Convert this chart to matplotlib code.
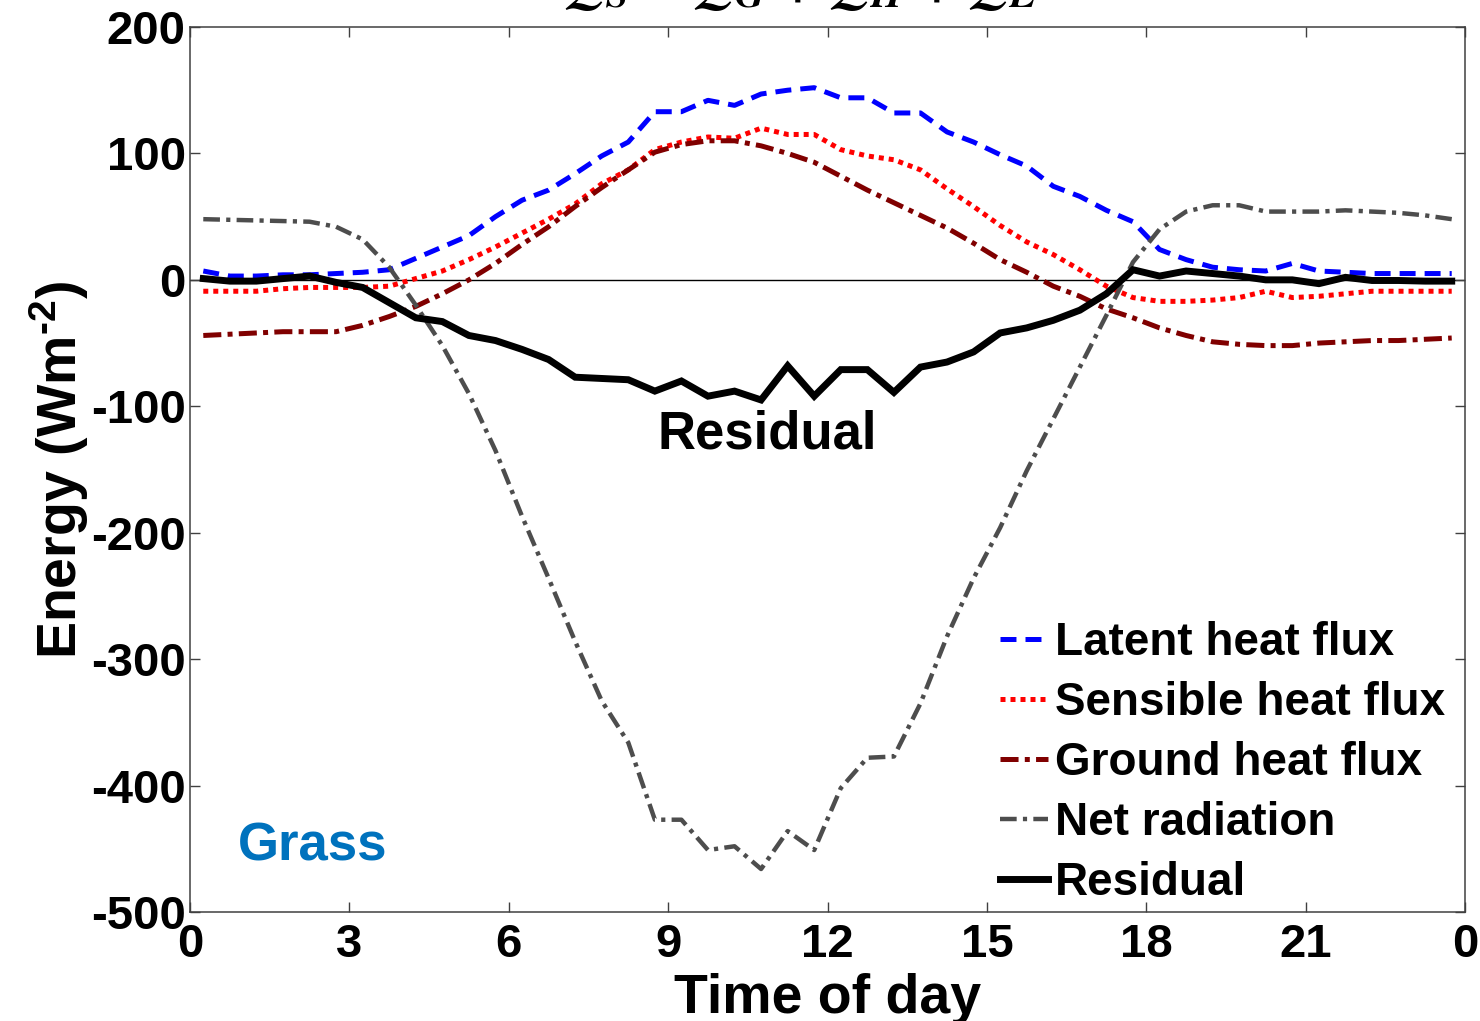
import matplotlib
matplotlib.use("Agg")
import matplotlib.pyplot as plt
import numpy as np

plt.rcParams['font.family'] = ['Liberation Sans', 'DejaVu Sans']
plt.rcParams['font.weight'] = 'bold'
plt.rcParams['lines.scale_dashes'] = False
plt.rcParams['axes.unicode_minus'] = False
plt.rcParams['mathtext.fontset'] = 'custom'
plt.rcParams['mathtext.rm'] = 'Liberation Sans:bold'
plt.rcParams['mathtext.it'] = 'Liberation Sans:bold'
plt.rcParams['mathtext.bf'] = 'Liberation Sans:bold'

# half-hourly time stamps (hours)
time_h = [0.25, 0.75, 1.25, 1.75, 2.25, 2.75, 3.25, 3.75, 4.25, 4.75, 5.25, 5.75,
          6.25, 6.75, 7.25, 7.75, 8.25, 8.75, 9.25, 9.75, 10.25, 10.75, 11.25, 11.75,
          12.25, 12.75, 13.25, 13.75, 14.25, 14.75, 15.25, 15.75, 16.25, 16.75, 17.25, 17.75,
          18.25, 18.75, 19.25, 19.75, 20.25, 20.75, 21.25, 21.75, 22.25, 22.75, 23.25, 23.75]

latent = [7, 3, 3, 4, 4, 5, 6, 8, 17, 26, 35, 50,
          63, 71, 84, 98, 109, 133, 133, 142, 138, 147, 150, 152,
          144, 144, 132, 132, 117, 109, 99, 90, 74, 66, 55, 46,
          24, 16, 10, 8, 7, 13, 7, 6, 5, 5, 5, 5]

sensible = [-9, -9, -9, -7, -6, -6, -6, -5, 1, 7, 16, 26,
            37, 48, 60, 76, 87, 103, 109, 113, 112, 120, 115, 115,
            103, 98, 95, 87, 72, 58, 43, 30, 20, 8, -5, -14,
            -17, -17, -16, -14, -9, -14, -13, -11, -9, -9, -9, -9]

ground = [-44, -43, -42, -41, -41, -41, -36, -29, -21, -11, 0, 13,
          28, 42, 58, 73, 87, 101, 107, 110, 110, 106, 100, 93,
          82, 71, 61, 51, 41, 29, 16, 6, -5, -13, -23, -30,
          -38, -44, -49, -51, -52, -52, -50, -49, -48, -48, -47, -46]

net_radiation = [48, 47.5, 47, 46.5, 46, 42, 32, 10, -20, -52, -90, -135,
                 -187, -236, -286, -333, -366, -427, -427, -451, -448, -466, -436, -451,
                 -402, -378, -377, -335, -282, -236, -196, -151, -110, -69, -28, 14,
                 40, 54, 59, 59, 54, 54, 54, 55, 54, 53, 51, 48]

residual = [1, -1, -1, 1, 3, -2, -6, -18, -30, -33, -44, -48,
            -55, -63, -77, -78, -79, -88, -80, -92, -88, -95, -68, -92,
            -71, -71, -89, -69, -65, -57, -42, -38, -32, -24, -11, 8,
            3, 7, 5, 3, 0, 0, -3, 2, -0.5, -0.5, -1, -1]

series_labels = ['Latent heat flux', 'Sensible heat flux', 'Ground heat flux',
                 'Net radiation', 'Residual']
xtick_vals = [0, 3, 6, 9, 12, 15, 18, 21, 24]
xtick_labels = ['0', '3', '6', '9', '12', '15', '18', '21', '0']
ytick_vals = [-500, -400, -300, -200, -100, 0, 100, 200]

fig = plt.figure(figsize=(14.8, 10.21), dpi=100)
ax = fig.add_axes([190/1480, 1 - 912/1021, 1275/1480, 885/1021])

ax.axhline(0, color='black', lw=1.0, zorder=1)

ax.plot(time_h, latent, color='#0000FF', lw=3.6, linestyle=(0, (11.5, 6.5)),
        label=series_labels[0], zorder=3)
ax.plot(time_h, sensible, color='#FF0000', lw=3.6, linestyle=(0, (3.6, 3.6)),
        label=series_labels[1], zorder=3)
ax.plot(time_h, ground, color='#800000', lw=3.6, linestyle=(0, (13, 4.5, 3.6, 4.5)),
        label=series_labels[2], zorder=3)
ax.plot(time_h, net_radiation, color='#4D4D4D', lw=3.2, linestyle=(0, (12, 4.5, 3, 4.5)),
        label=series_labels[3], zorder=3)
ax.plot(time_h, residual, color='black', lw=5, linestyle='-', solid_joinstyle='miter',
        label=series_labels[4], zorder=4)

ax.set_xlim(0, 24)
ax.set_ylim(-500, 200)
ax.set_xticks(xtick_vals)
ax.set_xticklabels(xtick_labels)
ax.set_yticks(ytick_vals)
ax.tick_params(direction='in', length=7, width=1, color='#404040',
               top=True, right=True, labelsize=34)
ax.tick_params(axis='x', pad=8)
ax.tick_params(axis='y', pad=3)
for lab in ax.get_xticklabels() + ax.get_yticklabels():
    lab.set_fontweight('bold')
for sp in ax.spines.values():
    sp.set_color('#404040')
    sp.set_linewidth(1.1)

ax.set_xlabel('Time of day', fontsize=40, fontweight='bold', labelpad=4)
ax.set_ylabel(r'Energy (Wm$^{\text{-2}}$)', fontsize=40, fontweight='bold', labelpad=0)

ax.text(8.8, -133, 'Residual', fontsize=38, fontweight='bold', color='black',
        ha='left', va='baseline', zorder=5)
ax.text(0.9, -459, 'Grass', fontsize=38, fontweight='bold', color='#0072BD',
        ha='left', va='baseline', zorder=5)

leg = ax.legend(loc='upper left', bbox_to_anchor=(1000/1480, 1 - 621/1021),
                bbox_transform=fig.transFigure, frameon=False, fontsize=33,
                handlelength=1.05, handletextpad=0.15, labelspacing=0.35,
                borderpad=0, borderaxespad=0)
for t in leg.get_texts():
    t.set_fontweight('bold')

fig.text(801/1480, 1 + 1/1021, r'$Q_S = Q_G + Q_H + Q_E$', ha='center', va='baseline',
         fontsize=42, math_fontfamily='stix', fontweight='normal')

fig.savefig('out.png', dpi=100)
